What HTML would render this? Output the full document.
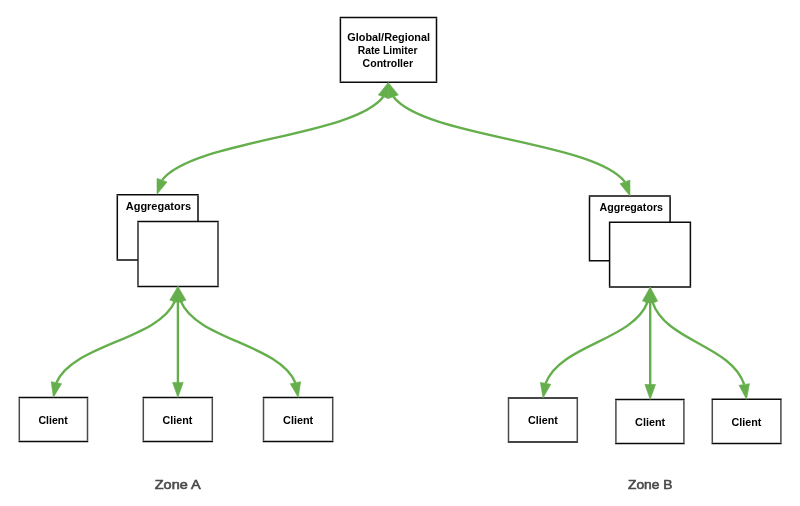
<!DOCTYPE html>
<html><head><meta charset="utf-8"><style>
html,body{margin:0;padding:0;background:#fff;width:800px;height:506px;overflow:hidden}
svg{display:block;font-family:"Liberation Sans",sans-serif;will-change:transform}
</style></head><body>
<svg width="800" height="506" viewBox="0 0 800 506">
<rect x="0" y="0" width="800" height="506" fill="#fff"/>
<rect x="340.40" y="17.60" width="96.10" height="64.60" fill="#fff"/><path d="M339.65 17.60H437.25M339.65 82.20H437.25" stroke="#0a0a0a" stroke-width="1.50" fill="none"/><path d="M340.40 18.35V81.45M436.50 18.35V81.45" stroke="#0a0a0a" stroke-width="1.50" fill="none"/>
<rect x="117.30" y="194.80" width="80.70" height="65.20" fill="#fff"/><path d="M116.55 194.80H198.75M116.55 260.00H198.75" stroke="#0a0a0a" stroke-width="1.50" fill="none"/><path d="M117.30 195.55V259.25M198.00 195.55V259.25" stroke="#0a0a0a" stroke-width="1.50" fill="none"/>
<rect x="138.00" y="221.50" width="80.00" height="64.90" fill="#fff"/><path d="M137.25 221.50H218.75M137.25 286.40H218.75" stroke="#0a0a0a" stroke-width="1.50" fill="none"/><path d="M138.00 222.25V285.65M218.00 222.25V285.65" stroke="#2a2a2a" stroke-width="1.50" fill="none"/>
<rect x="589.50" y="196.10" width="80.60" height="64.60" fill="#fff"/><path d="M588.75 196.10H670.85M588.75 260.70H670.85" stroke="#0a0a0a" stroke-width="1.50" fill="none"/><path d="M589.50 196.85V259.95M670.10 196.85V259.95" stroke="#0a0a0a" stroke-width="1.50" fill="none"/>
<rect x="609.60" y="222.30" width="80.80" height="64.70" fill="#fff"/><path d="M608.85 222.30H691.15M608.85 287.00H691.15" stroke="#0a0a0a" stroke-width="1.50" fill="none"/><path d="M609.60 223.05V286.25M690.40 223.05V286.25" stroke="#0a0a0a" stroke-width="1.50" fill="none"/>
<rect x="19.30" y="397.50" width="68.20" height="44.00" fill="#fff"/><path d="M18.55 397.50H88.25M18.55 441.50H88.25" stroke="#0a0a0a" stroke-width="1.50" fill="none"/><path d="M19.30 398.25V440.75M87.50 398.25V440.75" stroke="#4a4a4a" stroke-width="1.50" fill="none"/>
<rect x="143.30" y="397.50" width="69.00" height="44.00" fill="#fff"/><path d="M142.55 397.50H213.05M142.55 441.50H213.05" stroke="#0a0a0a" stroke-width="1.50" fill="none"/><path d="M143.30 398.25V440.75M212.30 398.25V440.75" stroke="#4a4a4a" stroke-width="1.50" fill="none"/>
<rect x="263.50" y="397.50" width="69.20" height="44.00" fill="#fff"/><path d="M262.75 397.50H333.45M262.75 441.50H333.45" stroke="#0a0a0a" stroke-width="1.50" fill="none"/><path d="M263.50 398.25V440.75M332.70 398.25V440.75" stroke="#4a4a4a" stroke-width="1.50" fill="none"/>
<rect x="508.50" y="398.10" width="68.80" height="43.90" fill="#fff"/><path d="M507.75 398.10H578.05M507.75 442.00H578.05" stroke="#0a0a0a" stroke-width="1.50" fill="none"/><path d="M508.50 398.85V441.25M577.30 398.85V441.25" stroke="#4a4a4a" stroke-width="1.50" fill="none"/>
<rect x="615.90" y="399.50" width="68.00" height="43.90" fill="#fff"/><path d="M615.15 399.50H684.65M615.15 443.40H684.65" stroke="#0a0a0a" stroke-width="1.50" fill="none"/><path d="M615.90 400.25V442.65M683.90 400.25V442.65" stroke="#4a4a4a" stroke-width="1.50" fill="none"/>
<rect x="712.30" y="399.30" width="68.60" height="44.10" fill="#fff"/><path d="M711.55 399.30H781.65M711.55 443.40H781.65" stroke="#0a0a0a" stroke-width="1.50" fill="none"/><path d="M712.30 400.05V442.65M780.90 400.05V442.65" stroke="#4a4a4a" stroke-width="1.50" fill="none"/>
<g fill="none" stroke="#64ae4c" stroke-width="2.35" stroke-linecap="butt">
<path d="M383.28 96.74 C352.78 136.87 192.52 140.03 162.02 180.16"/>
<path d="M393.36 96.72 C424.85 137.76 593.45 140.84 624.94 181.88"/>
<path d="M174.92 301.20 C157.91 340.19 73.39 343.71 56.38 382.70"/>
<path d="M177.90 301.00 L177.90 382.90"/>
<path d="M180.79 301.22 C197.25 340.19 278.95 343.71 295.41 382.68"/>
<path d="M647.60 301.97 C632.91 340.87 560.29 344.43 545.60 383.33"/>
<path d="M650.20 301.70 L650.20 385.00"/>
<path d="M652.50 302.02 C665.63 341.49 731.07 345.01 744.20 384.48"/>
</g>
<g fill="#64ae4c" stroke="#64ae4c" stroke-width="0.6" stroke-linejoin="round">
<path d="M388.30 82.60 L388.28 98.51 L378.29 94.96 Z"/>
<path d="M157.00 194.30 L157.02 178.39 L167.01 181.94 Z"/>
<path d="M388.30 82.60 L398.35 94.93 L388.38 98.51 Z"/>
<path d="M630.00 196.00 L619.95 183.67 L629.92 180.09 Z"/>
<path d="M177.90 286.50 L180.11 302.25 L169.72 300.15 Z"/>
<path d="M53.40 397.40 L51.19 381.65 L61.58 383.75 Z"/>
<path d="M177.90 286.50 L183.20 301.50 L172.60 301.50 Z"/>
<path d="M177.90 397.40 L172.60 382.40 L183.20 382.40 Z"/>
<path d="M177.90 286.50 L185.99 300.20 L175.59 302.24 Z"/>
<path d="M298.30 397.40 L290.21 383.70 L300.61 381.66 Z"/>
<path d="M650.20 287.20 L652.82 302.89 L642.38 301.06 Z"/>
<path d="M543.00 398.10 L540.38 382.41 L550.82 384.24 Z"/>
<path d="M650.20 287.20 L655.50 302.20 L644.90 302.20 Z"/>
<path d="M650.20 399.50 L644.90 384.50 L655.50 384.50 Z"/>
<path d="M650.20 287.20 L657.73 301.21 L647.26 302.83 Z"/>
<path d="M746.50 399.30 L738.97 385.29 L749.44 383.67 Z"/>
</g>
<text x="347.26" y="40.60" font-size="11.20" textLength="82.84" lengthAdjust="spacingAndGlyphs" font-weight="bold" fill="#000">Global/Regional</text>
<text x="357.68" y="53.60" font-size="11.20" textLength="59.76" lengthAdjust="spacingAndGlyphs" font-weight="bold" fill="#000">Rate Limiter</text>
<text x="362.62" y="66.60" font-size="11.20" textLength="50.40" lengthAdjust="spacingAndGlyphs" font-weight="bold" fill="#000">Controller</text>
<text x="125.76" y="209.90" font-size="11.20" textLength="65.26" lengthAdjust="spacingAndGlyphs" font-weight="bold" fill="#000">Aggregators</text>
<text x="599.48" y="211.30" font-size="11.20" textLength="63.54" lengthAdjust="spacingAndGlyphs" font-weight="bold" fill="#000">Aggregators</text>
<text x="38.40" y="423.70" font-size="11.50" textLength="29.40" lengthAdjust="spacingAndGlyphs" font-weight="bold" fill="#000">Client</text>
<text x="162.40" y="423.70" font-size="11.50" textLength="29.90" lengthAdjust="spacingAndGlyphs" font-weight="bold" fill="#000">Client</text>
<text x="283.04" y="423.70" font-size="11.50" textLength="30.20" lengthAdjust="spacingAndGlyphs" font-weight="bold" fill="#000">Client</text>
<text x="528.04" y="424.40" font-size="11.50" textLength="29.76" lengthAdjust="spacingAndGlyphs" font-weight="bold" fill="#000">Client</text>
<text x="635.04" y="425.70" font-size="11.50" textLength="30.20" lengthAdjust="spacingAndGlyphs" font-weight="bold" fill="#000">Client</text>
<text x="731.40" y="425.70" font-size="11.50" textLength="29.90" lengthAdjust="spacingAndGlyphs" font-weight="bold" fill="#000">Client</text>
<text x="154.76" y="489.00" font-size="12.60" textLength="45.90" lengthAdjust="spacingAndGlyphs" font-weight="normal" fill="#4a4a4a" stroke="#4a4a4a" stroke-width="0.6">Zone A</text>
<text x="627.98" y="489.20" font-size="12.60" textLength="44.40" lengthAdjust="spacingAndGlyphs" font-weight="normal" fill="#4a4a4a" stroke="#4a4a4a" stroke-width="0.6">Zone B</text>
</svg>
</body></html>
